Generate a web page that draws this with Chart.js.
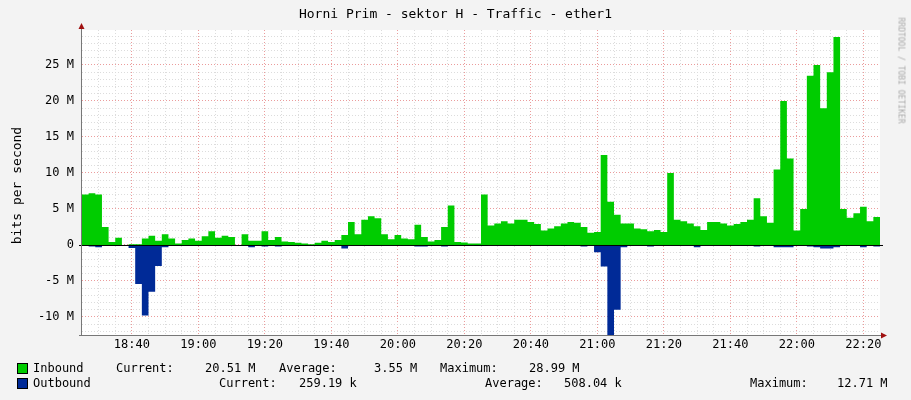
<!DOCTYPE html>
<html>
<head>
<meta charset="utf-8">
<style>
  body { margin: 0; background: #f3f3f3; }
  #wrap { position: relative; width: 911px; height: 400px; background: #f3f3f3; font-family: "DejaVu Sans Mono", monospace; font-size: 12px; color: #000; }
  canvas { position: absolute; left: 0; top: 0; }
  .t { position: absolute; white-space: pre; }
  .sq { position: absolute; width: 9px; height: 9px; border: 1px solid #000; }
</style>
</head>
<body>
<div id="wrap">
  <canvas id="myChart" width="911" height="400"></canvas>
  <div class="t" style="left:0;width:911px;text-align:center;top:6px;font-size:13px">Horni Prim - sektor H - Traffic - ether1</div>
  <div class="t" id="ylab" style="font-size:13px">bits per second</div>
  <div class="t" id="rlab" style="font-size:8px;color:#aaa">RRDTOOL / TOBI OETIKER</div>

  <div class="sq" style="left:17px;top:363px;background:#00cc00"></div>
  <div class="t" style="left:33px;top:361px">Inbound</div>
  <div class="t" style="left:116px;top:361px">Current:</div>
  <div class="t" style="left:205px;top:361px">20.51 M</div>
  <div class="t" style="left:279px;top:361px">Average:</div>
  <div class="t" style="left:374px;top:361px">3.55 M</div>
  <div class="t" style="left:440px;top:361px">Maximum:</div>
  <div class="t" style="left:529px;top:361px">28.99 M</div>

  <div class="sq" style="left:17px;top:378px;background:#002a97"></div>
  <div class="t" style="left:33px;top:376px">Outbound</div>
  <div class="t" style="left:219px;top:376px">Current:</div>
  <div class="t" style="left:299px;top:376px">259.19 k</div>
  <div class="t" style="left:485px;top:376px">Average:</div>
  <div class="t" style="left:564px;top:376px">508.04 k</div>
  <div class="t" style="left:750px;top:376px">Maximum:</div>
  <div class="t" style="left:837px;top:376px">12.71 M</div>
</div>

<script src="https://cdn.jsdelivr.net/npm/chart.js"></script>
<script>
// minutes since 18:25, 2-minute steps; values in Mbit/s
var inbound = [
  7.0, 7.2, 7.0, 2.5, 0.4, 1.0, 0, 0.1, 0.1, 0.9,
  1.3, 0.6, 1.5, 0.9, 0.2, 0.7, 0.9, 0.6, 1.2, 1.9,
  1.0, 1.3, 1.1, 0, 1.5, 0.6, 0.6, 1.9, 0.7, 1.1,
  0.5, 0.4, 0.3, 0.2, 0.1, 0.3, 0.6, 0.4, 0.7, 1.4,
  3.2, 1.5, 3.5, 4.0, 3.7, 1.5, 0.8, 1.4, 0.9, 0.8,
  2.8, 1.1, 0.5, 0.7, 2.5, 5.5, 0.4, 0.35, 0.2, 0.2,
  7.0, 2.7, 3.0, 3.3, 3.0, 3.5, 3.5, 3.2, 2.9, 2.0,
  2.3, 2.6, 3.0, 3.2, 3.1, 2.5, 1.7, 1.8, 12.5, 6.0,
  4.2, 3.0, 3.0, 2.3, 2.2, 1.9, 2.1, 1.8, 10.0, 3.5,
  3.3, 3.0, 2.6, 2.1, 3.2, 3.2, 3.0, 2.7, 2.9, 3.2,
  3.5, 6.5, 4.0, 3.1, 10.5, 20.0, 12.0, 2.0, 5.0, 23.5,
  25.0, 19.0, 24.0, 28.9, 5.0, 3.8, 4.4, 5.3, 3.3, 3.9
];
var outbound = [
  0, -0.2, -0.3, 0, 0, 0, 0, -0.4, -5.4, -9.8,
  -6.5, -2.9, -0.3, 0, 0, 0, 0, 0, 0, 0,
  0, 0, 0, 0, 0, -0.3, 0, -0.2, 0, -0.2,
  0, 0, 0, 0, 0, 0, 0, 0, -0.1, -0.5,
  0, 0, 0, 0, 0, 0, 0, 0, 0, 0,
  -0.2, -0.2, 0, 0, -0.2, -0.1, 0, 0, 0, -0.15,
  -0.15, 0, 0, 0, 0, 0, 0, 0, 0, 0,
  0, 0, -0.1, 0, 0, -0.2, 0, -1.0, -3.0, -12.7,
  -9.0, -0.3, 0, 0, 0, -0.2, 0, 0, 0, 0,
  0, 0, -0.3, 0, 0, 0, 0, 0, 0, -0.1,
  0, -0.2, 0, 0, -0.3, -0.3, -0.3, 0, 0, -0.2,
  -0.3, -0.5, -0.5, -0.3, 0, 0, 0, -0.3, 0, -0.2
];
var timeLabels = ['18:40', '19:00', '19:20', '19:40', '20:00', '20:20', '20:40', '21:00', '21:20', '21:40', '22:00', '22:20'];

function toPoints(arr) {
  var pts = arr.map(function (v, i) { return { x: i * 2, y: v }; });
  pts.push({ x: arr.length * 2, y: arr[arr.length - 1] });
  return pts;
}

var ylab = document.getElementById('ylab');
ylab.style.left = '-42px'; ylab.style.top = '178px';
ylab.style.transform = 'rotate(-90deg)';
var rlab = document.getElementById('rlab');
rlab.style.left = '848px'; rlab.style.top = '66px';
rlab.style.transform = 'rotate(90deg)';

const axesExtras = {
  id: 'axesExtras',
  beforeDraw: (chart) => {
    const { ctx, chartArea } = chart;
    ctx.save();
    ctx.fillStyle = '#ffffff';
    ctx.fillRect(chartArea.left, chartArea.top, chartArea.right - chartArea.left, chartArea.bottom - chartArea.top);
    ctx.restore();
  },
  afterDatasetsDraw: (chart) => {
    const { ctx, chartArea, scales } = chart;
    const y0 = scales.y.getPixelForValue(0);
    ctx.save();
    ctx.strokeStyle = '#000';
    ctx.lineWidth = 1;
    ctx.beginPath();
    ctx.moveTo(chartArea.left - 3, y0 + 0.5);
    ctx.lineTo(chartArea.right + 3, y0 + 0.5);
    ctx.stroke();
    ctx.strokeStyle = '#777';
    ctx.beginPath();
    ctx.moveTo(chartArea.left - 0.5, chartArea.top - 4);
    ctx.lineTo(chartArea.left - 0.5, chartArea.bottom);
    ctx.moveTo(chartArea.left - 3, chartArea.bottom + 0.5);
    ctx.lineTo(chartArea.right + 4, chartArea.bottom + 0.5);
    ctx.stroke();
    ctx.fillStyle = '#a01010';
    ctx.beginPath();
    ctx.moveTo(chartArea.left - 3.5, chartArea.top - 1);
    ctx.lineTo(chartArea.left + 2.5, chartArea.top - 1);
    ctx.lineTo(chartArea.left - 0.5, chartArea.top - 7);
    ctx.fill();
    ctx.beginPath();
    ctx.moveTo(chartArea.right + 1, chartArea.bottom - 2.5);
    ctx.lineTo(chartArea.right + 1, chartArea.bottom + 3.5);
    ctx.lineTo(chartArea.right + 7, chartArea.bottom + 0.5);
    ctx.fill();
    ctx.restore();
  }
};

var ctx = document.getElementById('myChart');
var myChart = new Chart(ctx, {
  type: 'line',
  data: {
    datasets: [{
      label: 'Inbound',
      data: toPoints(inbound),
      stepped: 'before',
      fill: 'origin',
      backgroundColor: '#00cc00',
      borderWidth: 0,
      pointRadius: 0
    }, {
      label: 'Outbound',
      data: toPoints(outbound),
      stepped: 'before',
      fill: 'origin',
      backgroundColor: '#002a97',
      borderWidth: 0,
      pointRadius: 0
    }]
  },
  options: {
    responsive: false,
    animation: false,
    layout: { padding: { top: 30, right: 31, bottom: 45, left: 0 } },
    plugins: { legend: { display: false }, tooltip: { enabled: false } },
    scales: {
      x: {
        type: 'linear', min: 0, max: 240,
        afterBuildTicks: (axis) => {
          var t = [];
          for (var m = 5; m < 240; m += 5) t.push({ value: m });
          axis.ticks = t;
        },
        afterFit: (axis) => { axis.height = 20; },
        ticks: {
          autoSkip: false, maxRotation: 0, color: '#000',
          font: { family: 'DejaVu Sans Mono', size: 12 },
          callback: (v) => ((v - 15) % 20 === 0 ? timeLabels[(v - 15) / 20] : '')
        },
        grid: {
          color: (c) => ((c.tick.value - 15) % 20 === 0 ? '#eb9c9c' : '#dcdcdc'),
          tickLength: 0, drawTicks: false
        },
        border: { display: false, dash: [1, 2] }
      },
      y: {
        min: -12.5, max: 29.86,
        afterBuildTicks: (axis) => {
          var t = [];
          for (var v = -12; v <= 29; v++) t.push({ value: v });
          axis.ticks = t;
        },
        afterFit: (axis) => { axis.width = 82; },
        ticks: {
          autoSkip: false, color: '#000', padding: 8,
          font: { family: 'DejaVu Sans Mono', size: 12 },
          callback: (v) => (v % 5 === 0 ? (v === 0 ? '0' : v + ' M') : '')
        },
        grid: {
          color: (c) => (c.tick.value % 5 === 0 ? '#eb9c9c' : '#dcdcdc'),
          drawTicks: false
        },
        border: { display: false, dash: [1, 2] }
      }
    }
  },
  plugins: [axesExtras]
});
</script>
</body>
</html>
